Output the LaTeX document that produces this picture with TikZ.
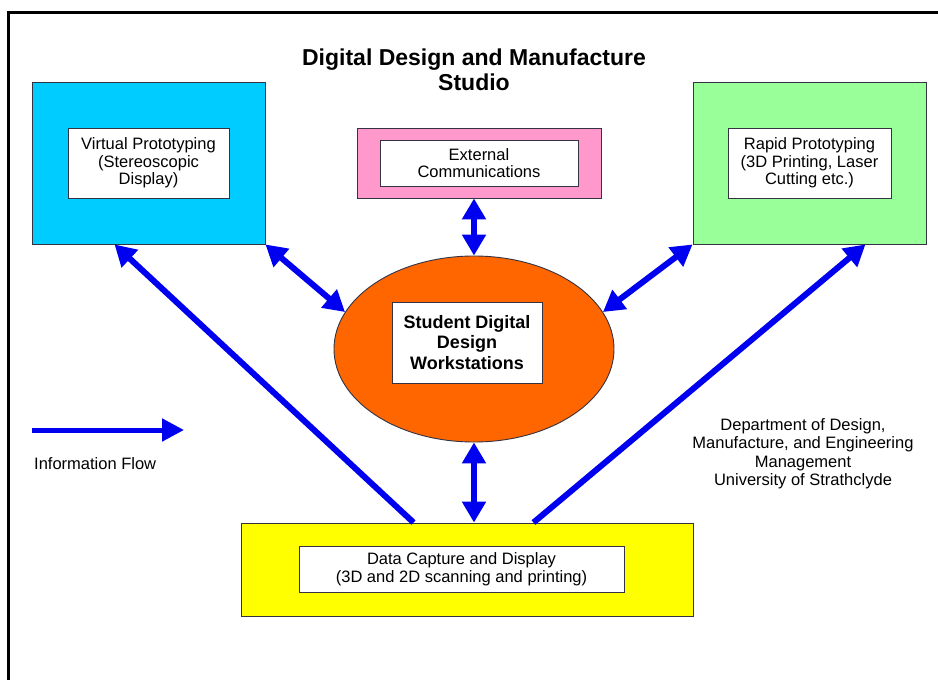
\documentclass[tikz,border=0pt]{standalone}
\usepackage{fontspec}
\setmainfont{Liberation Sans}
\usetikzlibrary{arrows.meta,shapes.geometric}

\definecolor{vpcyan}{HTML}{00CCFF}
\definecolor{expink}{HTML}{FF99CC}
\definecolor{rpgreen}{HTML}{99FF99}
\definecolor{wsorange}{HTML}{FF6600}
\definecolor{dcyellow}{HTML}{FFFF00}
\definecolor{flowblue}{HTML}{0000F0}
\definecolor{edge}{HTML}{333344}

\tikzset{
  outerbox/.style={draw=edge, line width=0.9pt, inner sep=0pt},
  innerbox/.style={draw=edge, line width=0.9pt, fill=white, inner sep=0pt,
    align=center, font=\fontsize{16.5}{17.5}\selectfont},
  flow/.style={draw=flowblue, line width=6pt,
    -{Triangle[length=21pt,width=23pt]}},
  flowboth/.style={draw=flowblue, line width=6pt,
    {Triangle[length=21pt,width=23pt]}-{Triangle[length=21pt,width=23pt]}},
  plain/.style={align=center, inner sep=0pt, font=\fontsize{16.5}{18.5}\selectfont},
}

\begin{document}
\begin{tikzpicture}[x=1pt,y=-1pt]
\useasboundingbox (0,0) rectangle (938,680);
\fill[white] (0,0) rectangle (938,680);

% page frame (top and left edges)
\draw[line width=3pt, line cap=rect] (8,680) -- (8,12) -- (938,12);

% heading
\node[align=center, inner sep=0pt, font=\bfseries\fontsize{23}{25}\selectfont] (title) at (474,69.5)
  {Digital Design and Manufacture\\Studio};

% Virtual Prototyping
\node[outerbox, fill=vpcyan, minimum width=233pt, minimum height=162pt] (vp) at (148.5,163) {};
\node[innerbox, minimum width=161pt, minimum height=70pt] (vpt) at (vp.center)
  {Virtual Prototyping\\(Stereoscopic\\Display)};

% External Communications
\node[outerbox, fill=expink, minimum width=244pt, minimum height=70pt] (ex) at (479,163) {};
\node[innerbox, minimum width=198pt, minimum height=46pt] (ext) at (ex.center)
  {External\\Communications};

% Rapid Prototyping
\node[outerbox, fill=rpgreen, minimum width=233pt, minimum height=162pt] (rp) at (809.5,163) {};
\node[innerbox, minimum width=163pt, minimum height=70pt] (rpt) at (rp.center)
  {Rapid Prototyping\\(3D Printing, Laser\\Cutting etc.)};

% Student workstations
\node[ellipse, draw=edge, line width=0.9pt, fill=wsorange, inner sep=0pt,
      minimum width=280pt, minimum height=186pt] (ws) at (474,349) {};
\node[innerbox, minimum width=150pt, minimum height=81pt,
      font=\bfseries\fontsize{18}{20.5}\selectfont] (wst) at (467,342.5)
  {Student Digital\\Design\\Workstations};

% Data Capture and Display
\node[outerbox, fill=dcyellow, minimum width=452pt, minimum height=93pt] (dc) at (467,569.5) {};
\node[innerbox, minimum width=325pt, minimum height=46pt] (dct) at (461.5,569)
  {Data Capture and Display\\(3D and 2D scanning and printing)};

% information flow between the parts
\draw[flowboth] (ws.north |- ex.south) -- (ws.north);
\draw[flowboth] (vp.south east) -- (ws.164);
\draw[flowboth] (rp.south west) -- (ws.16);
\draw[flowboth] (ws.south) -- (ws.south |- dc.north);
\draw[flow] ([xshift=173pt]dc.north west) -- ([xshift=83pt]vp.south west);
\draw[flow] ([xshift=-160pt]dc.north east) -- ([xshift=-61pt]rp.south east);

% key
\coordinate (keyA) at (32,430);
\coordinate (keyB) at (184,430);
\draw[draw=flowblue, line width=5pt, -{Triangle[length=22pt,width=22pt]}] (keyA) -- (keyB);
\node[plain, anchor=west] (keyt) at (34,464) {Information Flow};

% department
\node[plain] (dept) at (803,453.5)
  {Department of Design,\\Manufacture, and Engineering\\Management\\University of Strathclyde};
\end{tikzpicture}
\end{document}
